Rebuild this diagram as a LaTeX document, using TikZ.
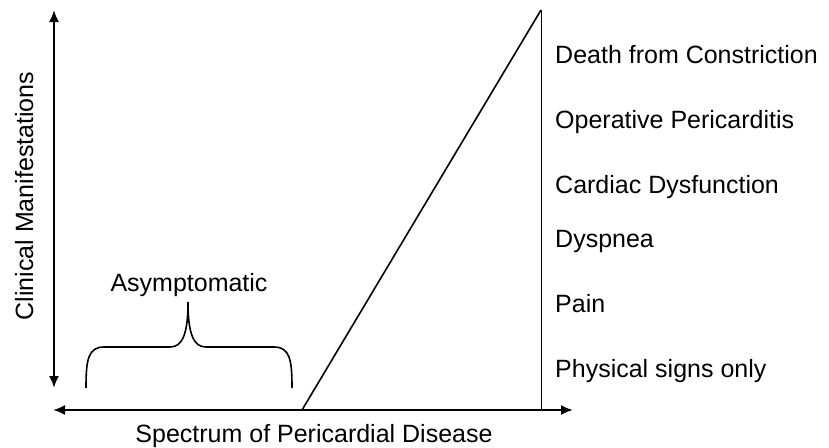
\documentclass[tikz,border=0pt]{standalone}
\usepackage{fontspec}
\setmainfont{Liberation Sans}
\usetikzlibrary{arrows.meta}

\begin{document}
\begin{tikzpicture}[x=1pt, y=-1pt, >={Latex[length=12pt,width=10pt]},
    lbl/.style={font=\fontsize{25}{30}\selectfont, inner sep=0pt},
    axis/.style={<->, line width=2pt}]
    \useasboundingbox (0,0) rectangle (829,447);

    % Corner points
    \coordinate (ytop) at (54,10);
    \coordinate (ybot) at (54,388);
    \coordinate (xleft) at (53,410);
    \coordinate (xright) at (573,410);
    \coordinate (onset) at (302,410);
    \coordinate (peak) at (541,10);
    \coordinate (foot) at (541,410);

    % Axes
    \draw[axis] (ybot) -- (ytop);
    \draw[axis] (xleft) -- (xright);

    % Rising line and right edge
    \draw[line width=1.6pt] (onset) -- (peak);
    \draw[line width=1pt] (peak) -- (foot);

    % Axis titles
    \node[lbl, rotate=90, anchor=base] (ytitle) at (33,196) {Clinical Manifestations};
    \node[lbl, anchor=base] (xtitle) at (314,442) {Spectrum of Pericardial Disease};

    % Manifestations, most severe on top
    \foreach \name/\txt/\yb in {death/Death from Constriction/63,
                                oper/Operative Pericarditis/128,
                                card/Cardiac Dysfunction/193,
                                dysp/Dyspnea/247,
                                pain/Pain/312,
                                phys/Physical signs only/377}
        \node[lbl, anchor=base west] (\name) at (555,\yb) {\txt};

    % Brace over the silent part
    \coordinate (bl) at (86,388);
    \coordinate (br) at (292,388);
    \coordinate (tip) at (188,302);
    \draw[line width=1.6pt] (bl) .. controls (86,360) and (88,347) .. (104,347) -- (170,347)
        .. controls (182,347) and (188,335) .. (tip);
    \draw[line width=1.6pt] (br) .. controls (292,360) and (290,347) .. (274,347) -- (206,347)
        .. controls (194,347) and (188,335) .. (tip);
    \node[lbl, anchor=base] (asym) at (189,291) {Asymptomatic};
\end{tikzpicture}
\end{document}
